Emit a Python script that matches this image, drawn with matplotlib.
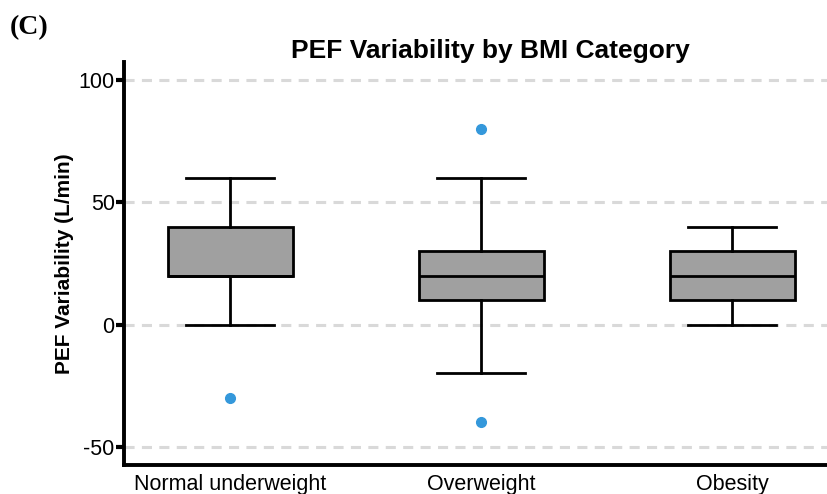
import numpy as np
import matplotlib
matplotlib.use('Agg')
import matplotlib.pyplot as plt

plt.rcParams['font.family'] = ['Liberation Sans', 'DejaVu Sans']
plt.rcParams['axes.unicode_minus'] = False

# box summary
categories = ['Normal underweight', 'Overweight', 'Obesity']
q1 = [20, 10, 10]
med = [20, 20, 20]
q3 = [40, 30, 30]
whislo = [0, -20, 0]
whishi = [60, 60, 40]
fliers = [[-30], [80, -40], []]

stats = []
for i in range(len(categories)):
    stats.append({'label': categories[i], 'q1': q1[i], 'med': med[i], 'q3': q3[i],
                  'whislo': whislo[i], 'whishi': whishi[i], 'fliers': fliers[i]})

fig = plt.figure(figsize=(8.27, 4.94), dpi=100)
ax = fig.add_axes([0.1505, 0.0587, 0.8495, 0.8158])

#网格线
for yv in [-50, 0, 50, 100]:
    ax.axhline(yv, color='#d9d9d9', lw=2.2, dashes=(3.3, 2.4), zorder=0)

lw = 2.0
ax.bxp(stats, positions=[1, 2, 3], widths=0.5, patch_artist=True,
       boxprops=dict(facecolor='#a0a0a0', edgecolor='black', linewidth=lw),
       medianprops=dict(color='black', linewidth=lw),
       whiskerprops=dict(color='black', linewidth=lw),
       capprops=dict(color='black', linewidth=lw),
       capwidths=0.35,
       flierprops=dict(marker='o', markerfacecolor='#3498db', markeredgecolor='#3498db',
                       markersize=7),
       zorder=3)

ax.set_xlim(0.578, 3.377)
ax.set_ylim(-57.5, 107.5)
ax.set_yticks([-50, 0, 50, 100])
ax.set_xticks([1, 2, 3])
ax.set_xticklabels(categories, fontsize=15.5)
ax.tick_params(axis='x', length=0, pad=6.5)
ax.tick_params(axis='y', labelsize=15.5, length=6, width=3, pad=1)

for s in ['top', 'right']:
    ax.spines[s].set_visible(False)
for s in ['left', 'bottom']:
    ax.spines[s].set_linewidth(2.8)

ax.set_ylabel('PEF Variability (L/min)', fontsize=15, fontweight='bold', labelpad=3)
fig.text(0.593, 0.883, 'PEF Variability by BMI Category', fontsize=19, fontweight='bold',
         ha='center', va='baseline')
fig.text(0.012, 0.93, '(C)', fontsize=20, fontweight='bold', family=['Liberation Serif'],
         ha='left', va='baseline')

plt.savefig('out.png', dpi=100)
